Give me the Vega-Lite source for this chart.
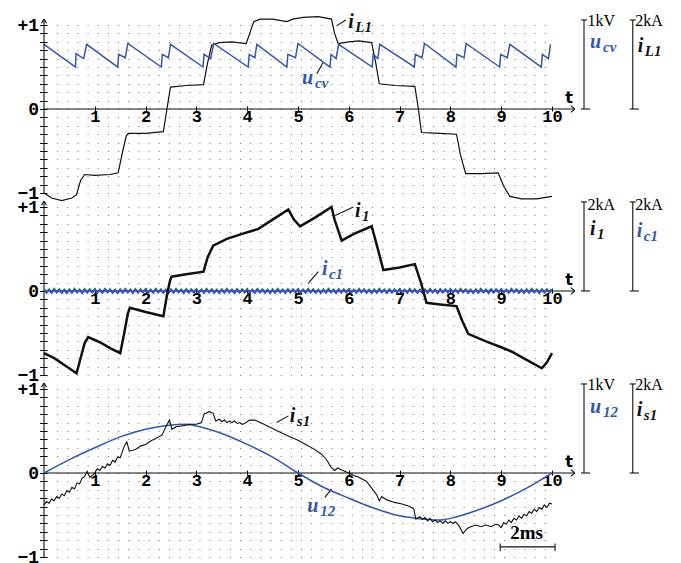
{
"$schema": "https://vega.github.io/schema/vega-lite/v6.json",
"background": "white",
"padding": {"left": 16, "top": 12, "right": 5, "bottom": 0},
"spacing": 14,
"bounds": "flush",
"config": {
  "view": {"stroke": null},
  "axisX": {"offset": -87, "tickSize": 5, "tickColor": "#000", "tickWidth": 1, "domain": false, "grid": false, "labelFont": "Liberation Mono", "labelFontWeight": "bold", "labelFontSize": 17, "labelColor": "#000", "labelPadding": -3, "labelBaseline": "top", "labelAngle": 0, "labelOverlap": false, "labelFlush": false},
  "axisY": {"labelExpr": "datum.value == 1 ? '+1' : (datum.value == 0 ? '0' : (datum.value == -1 ? '−1' : ''))", "offset": -2.5, "tickSize": 7, "tickColor": "#000", "tickWidth": 1, "domain": false, "grid": true, "gridDash": [1, 9.16], "gridColor": "#777", "gridWidth": 1, "labelFont": "Liberation Mono", "labelFontWeight": "bold", "labelFontSize": 18, "labelColor": "#000", "labelPadding": 1, "labelBaseline": "middle", "labelOverlap": false, "labelFlush": false}
},
"datasets": {
  "dense": [{"v":-1},{"v":-0.5},{"v":0.5},{"v":1}],
  "tlab": [{"t":10.26,"v":0.07,"label":"t"}],
  "ucv": [{"t":0,"v":0.77},{"t":0.62,"v":0.5},{"t":0.63,"v":0.66},{"t":0.78,"v":0.6},{"t":0.84,"v":0.77},{"t":1.45,"v":0.5},{"t":1.47,"v":0.65},{"t":1.6,"v":0.61},{"t":1.65,"v":0.78},{"t":2.31,"v":0.5},{"t":2.33,"v":0.65},{"t":2.45,"v":0.61},{"t":2.49,"v":0.77},{"t":3.13,"v":0.5},{"t":3.15,"v":0.65},{"t":3.28,"v":0.6},{"t":3.34,"v":0.78},{"t":4.02,"v":0.5},{"t":4.04,"v":0.65},{"t":4.15,"v":0.61},{"t":4.19,"v":0.77},{"t":4.78,"v":0.5},{"t":4.8,"v":0.65},{"t":4.95,"v":0.61},{"t":5.0,"v":0.78},{"t":5.63,"v":0.5},{"t":5.65,"v":0.65},{"t":5.75,"v":0.6},{"t":5.8,"v":0.77},{"t":6.46,"v":0.5},{"t":6.48,"v":0.65},{"t":6.57,"v":0.6},{"t":6.61,"v":0.77},{"t":7.29,"v":0.5},{"t":7.31,"v":0.65},{"t":7.44,"v":0.61},{"t":7.49,"v":0.78},{"t":8.11,"v":0.5},{"t":8.13,"v":0.65},{"t":8.27,"v":0.61},{"t":8.31,"v":0.78},{"t":8.97,"v":0.5},{"t":8.99,"v":0.65},{"t":9.12,"v":0.61},{"t":9.17,"v":0.77},{"t":9.79,"v":0.5},{"t":9.81,"v":0.65},{"t":9.93,"v":0.6},{"t":9.97,"v":0.77}],
  "iL1": [{"t":0,"v":-1.0},{"t":0.15,"v":-1.06},{"t":0.35,"v":-1.09},{"t":0.55,"v":-1.06},{"t":0.64,"v":-1.02},{"t":0.72,"v":-0.85},{"t":0.8,"v":-0.78},{"t":1.0,"v":-0.79},{"t":1.3,"v":-0.78},{"t":1.46,"v":-0.76},{"t":1.55,"v":-0.5},{"t":1.62,"v":-0.32},{"t":1.66,"v":-0.29},{"t":2.0,"v":-0.29},{"t":2.35,"v":-0.27},{"t":2.42,"v":0.0},{"t":2.49,"v":0.26},{"t":2.8,"v":0.28},{"t":3.14,"v":0.29},{"t":3.22,"v":0.55},{"t":3.3,"v":0.76},{"t":3.45,"v":0.79},{"t":3.7,"v":0.8},{"t":3.98,"v":0.78},{"t":4.05,"v":0.9},{"t":4.13,"v":1.04},{"t":4.25,"v":1.07},{"t":4.5,"v":1.07},{"t":4.78,"v":1.04},{"t":4.9,"v":1.07},{"t":5.1,"v":1.09},{"t":5.4,"v":1.1},{"t":5.66,"v":1.07},{"t":5.72,"v":0.9},{"t":5.79,"v":0.78},{"t":6.0,"v":0.8},{"t":6.2,"v":0.81},{"t":6.45,"v":0.79},{"t":6.53,"v":0.55},{"t":6.6,"v":0.3},{"t":6.9,"v":0.28},{"t":7.3,"v":0.27},{"t":7.37,"v":0.0},{"t":7.43,"v":-0.28},{"t":7.8,"v":-0.29},{"t":8.12,"v":-0.3},{"t":8.2,"v":-0.55},{"t":8.3,"v":-0.77},{"t":8.6,"v":-0.77},{"t":8.94,"v":-0.76},{"t":9.05,"v":-0.92},{"t":9.17,"v":-1.04},{"t":9.4,"v":-1.07},{"t":9.7,"v":-1.07},{"t":10,"v":-1.04}],
  "r1": [{"t":0,"v":-1,"t2":0,"v2":1.07},{"t":0,"v":0,"t2":10.45,"v2":0},{"t":10.37,"v":0.04,"t2":10.45,"v2":0},{"t":10.37,"v":-0.04,"t2":10.45,"v2":0},{"t":-0.05,"v":1.02,"t2":0,"v2":1.07},{"t":0.05,"v":1.02,"t2":0,"v2":1.07},{"t":10.63,"v":0,"t2":10.63,"v2":1.06},{"t":10.57,"v":1.06,"t2":10.69,"v2":1.06},{"t":10.57,"v":0,"t2":10.75,"v2":0},{"t":11.59,"v":0,"t2":11.59,"v2":1.06},{"t":11.53,"v":1.06,"t2":11.65,"v2":1.06},{"t":11.53,"v":0,"t2":11.71,"v2":0},{"t":5.76,"v":0.99,"t2":5.94,"v2":1.06},{"t":5.37,"v":0.42,"t2":5.49,"v2":0.55}],
  "l1": [{"t":5.99,"v":0.96,"m":"i","sub":"L1","q":"iL1"},{"t":5.08,"v":0.3,"m":"u","sub":"cv","q":"ucv"},{"t":10.75,"v":0.73,"m":"u","sub":"cv","q":"ucv"},{"t":11.69,"v":0.68,"m":"i","sub":"L1","q":"iL1"}],
  "u1": [{"t":10.7,"v":0.99,"u":"1kV"},{"t":11.64,"v":0.99,"u":"2kA"}],
  "i1": [{"t":0,"v":-0.74},{"t":0.2,"v":-0.8},{"t":0.4,"v":-0.88},{"t":0.64,"v":-0.98},{"t":0.72,"v":-0.8},{"t":0.8,"v":-0.62},{"t":0.87,"v":-0.55},{"t":1.1,"v":-0.61},{"t":1.3,"v":-0.68},{"t":1.5,"v":-0.74},{"t":1.58,"v":-0.5},{"t":1.65,"v":-0.27},{"t":1.69,"v":-0.2},{"t":2.0,"v":-0.25},{"t":2.35,"v":-0.3},{"t":2.42,"v":-0.05},{"t":2.48,"v":0.12},{"t":2.51,"v":0.17},{"t":2.8,"v":0.2},{"t":3.14,"v":0.23},{"t":3.22,"v":0.4},{"t":3.33,"v":0.54},{"t":3.6,"v":0.62},{"t":3.9,"v":0.68},{"t":4.22,"v":0.74},{"t":4.5,"v":0.85},{"t":4.81,"v":0.97},{"t":4.92,"v":0.85},{"t":5.04,"v":0.77},{"t":5.35,"v":0.88},{"t":5.66,"v":1.0},{"t":5.72,"v":0.85},{"t":5.86,"v":0.6},{"t":6.1,"v":0.68},{"t":6.45,"v":0.77},{"t":6.55,"v":0.55},{"t":6.68,"v":0.25},{"t":7.0,"v":0.28},{"t":7.3,"v":0.32},{"t":7.42,"v":0.1},{"t":7.53,"v":-0.14},{"t":7.8,"v":-0.16},{"t":8.12,"v":-0.18},{"t":8.23,"v":-0.35},{"t":8.35,"v":-0.51},{"t":8.7,"v":-0.6},{"t":9.0,"v":-0.67},{"t":9.2,"v":-0.72},{"t":9.5,"v":-0.82},{"t":9.8,"v":-0.92},{"t":9.9,"v":-0.85},{"t":10,"v":-0.74}],
  "ic1": [{"t":0,"v":0.02},{"t":0.05,"v":-0.018},{"t":0.1,"v":0.015},{"t":0.15,"v":-0.02},{"t":0.2,"v":0.022},{"t":0.25,"v":-0.015},{"t":0.3,"v":0.018},{"t":0.35,"v":-0.02},{"t":0.4,"v":0.015},{"t":0.45,"v":-0.022},
{"t":0.5,"v":0.018},{"t":0.55,"v":-0.02},{"t":0.6,"v":0.022},{"t":0.65,"v":-0.015},{"t":0.7,"v":0.015},{"t":0.75,"v":-0.022},{"t":0.8,"v":0.02},{"t":0.85,"v":-0.018},{"t":0.9,"v":0.018},{"t":0.95,"v":-0.015},
{"t":1,"v":0.02},{"t":1.05,"v":-0.018},{"t":1.1,"v":0.015},{"t":1.15,"v":-0.02},{"t":1.2,"v":0.022},{"t":1.25,"v":-0.015},{"t":1.3,"v":0.018},{"t":1.35,"v":-0.02},{"t":1.4,"v":0.015},{"t":1.45,"v":-0.022},
{"t":1.5,"v":0.018},{"t":1.55,"v":-0.02},{"t":1.6,"v":0.022},{"t":1.65,"v":-0.015},{"t":1.7,"v":0.015},{"t":1.75,"v":-0.022},{"t":1.8,"v":0.02},{"t":1.85,"v":-0.018},{"t":1.9,"v":0.018},{"t":1.95,"v":-0.015},
{"t":2,"v":0.02},{"t":2.05,"v":-0.018},{"t":2.1,"v":0.015},{"t":2.15,"v":-0.02},{"t":2.2,"v":0.022},{"t":2.25,"v":-0.015},{"t":2.3,"v":0.018},{"t":2.35,"v":-0.02},{"t":2.4,"v":0.015},{"t":2.45,"v":-0.022},
{"t":2.5,"v":0.018},{"t":2.55,"v":-0.02},{"t":2.6,"v":0.022},{"t":2.65,"v":-0.015},{"t":2.7,"v":0.015},{"t":2.75,"v":-0.022},{"t":2.8,"v":0.02},{"t":2.85,"v":-0.018},{"t":2.9,"v":0.018},{"t":2.95,"v":-0.015},
{"t":3,"v":0.02},{"t":3.05,"v":-0.018},{"t":3.1,"v":0.015},{"t":3.15,"v":-0.02},{"t":3.2,"v":0.022},{"t":3.25,"v":-0.015},{"t":3.3,"v":0.018},{"t":3.35,"v":-0.02},{"t":3.4,"v":0.015},{"t":3.45,"v":-0.022},
{"t":3.5,"v":0.018},{"t":3.55,"v":-0.02},{"t":3.6,"v":0.022},{"t":3.65,"v":-0.015},{"t":3.7,"v":0.015},{"t":3.75,"v":-0.022},{"t":3.8,"v":0.02},{"t":3.85,"v":-0.018},{"t":3.9,"v":0.018},{"t":3.95,"v":-0.015},
{"t":4,"v":0.02},{"t":4.05,"v":-0.018},{"t":4.1,"v":0.015},{"t":4.15,"v":-0.02},{"t":4.2,"v":0.022},{"t":4.25,"v":-0.015},{"t":4.3,"v":0.018},{"t":4.35,"v":-0.02},{"t":4.4,"v":0.015},{"t":4.45,"v":-0.022},
{"t":4.5,"v":0.018},{"t":4.55,"v":-0.02},{"t":4.6,"v":0.022},{"t":4.65,"v":-0.015},{"t":4.7,"v":0.015},{"t":4.75,"v":-0.022},{"t":4.8,"v":0.02},{"t":4.85,"v":-0.018},{"t":4.9,"v":0.018},{"t":4.95,"v":-0.015},
{"t":5,"v":0.02},{"t":5.05,"v":-0.018},{"t":5.1,"v":0.015},{"t":5.15,"v":-0.02},{"t":5.2,"v":0.022},{"t":5.25,"v":-0.015},{"t":5.3,"v":0.018},{"t":5.35,"v":-0.02},{"t":5.4,"v":0.015},{"t":5.45,"v":-0.022},
{"t":5.5,"v":0.018},{"t":5.55,"v":-0.02},{"t":5.6,"v":0.022},{"t":5.65,"v":-0.015},{"t":5.7,"v":0.015},{"t":5.75,"v":-0.022},{"t":5.8,"v":0.02},{"t":5.85,"v":-0.018},{"t":5.9,"v":0.018},{"t":5.95,"v":-0.015},
{"t":6,"v":0.02},{"t":6.05,"v":-0.018},{"t":6.1,"v":0.015},{"t":6.15,"v":-0.02},{"t":6.2,"v":0.022},{"t":6.25,"v":-0.015},{"t":6.3,"v":0.018},{"t":6.35,"v":-0.02},{"t":6.4,"v":0.015},{"t":6.45,"v":-0.022},
{"t":6.5,"v":0.018},{"t":6.55,"v":-0.02},{"t":6.6,"v":0.022},{"t":6.65,"v":-0.015},{"t":6.7,"v":0.015},{"t":6.75,"v":-0.022},{"t":6.8,"v":0.02},{"t":6.85,"v":-0.018},{"t":6.9,"v":0.018},{"t":6.95,"v":-0.015},
{"t":7,"v":0.02},{"t":7.05,"v":-0.018},{"t":7.1,"v":0.015},{"t":7.15,"v":-0.02},{"t":7.2,"v":0.022},{"t":7.25,"v":-0.015},{"t":7.3,"v":0.018},{"t":7.35,"v":-0.02},{"t":7.4,"v":0.015},{"t":7.45,"v":-0.022},
{"t":7.5,"v":0.018},{"t":7.55,"v":-0.02},{"t":7.6,"v":0.022},{"t":7.65,"v":-0.015},{"t":7.7,"v":0.015},{"t":7.75,"v":-0.022},{"t":7.8,"v":0.02},{"t":7.85,"v":-0.018},{"t":7.9,"v":0.018},{"t":7.95,"v":-0.015},
{"t":8,"v":0.02},{"t":8.05,"v":-0.018},{"t":8.1,"v":0.015},{"t":8.15,"v":-0.02},{"t":8.2,"v":0.022},{"t":8.25,"v":-0.015},{"t":8.3,"v":0.018},{"t":8.35,"v":-0.02},{"t":8.4,"v":0.015},{"t":8.45,"v":-0.022},
{"t":8.5,"v":0.018},{"t":8.55,"v":-0.02},{"t":8.6,"v":0.022},{"t":8.65,"v":-0.015},{"t":8.7,"v":0.015},{"t":8.75,"v":-0.022},{"t":8.8,"v":0.02},{"t":8.85,"v":-0.018},{"t":8.9,"v":0.018},{"t":8.95,"v":-0.015},
{"t":9,"v":0.02},{"t":9.05,"v":-0.018},{"t":9.1,"v":0.015},{"t":9.15,"v":-0.02},{"t":9.2,"v":0.022},{"t":9.25,"v":-0.015},{"t":9.3,"v":0.018},{"t":9.35,"v":-0.02},{"t":9.4,"v":0.015},{"t":9.45,"v":-0.022},
{"t":9.5,"v":0.018},{"t":9.55,"v":-0.02},{"t":9.6,"v":0.022},{"t":9.65,"v":-0.015},{"t":9.7,"v":0.015},{"t":9.75,"v":-0.022},{"t":9.8,"v":0.02},{"t":9.85,"v":-0.018},{"t":9.9,"v":0.018},{"t":9.95,"v":-0.015},{"t":10,"v":0.02}],
  "r2": [{"t":0,"v":-1,"t2":0,"v2":1.07},{"t":0,"v":0,"t2":10.45,"v2":0},{"t":10.37,"v":0.04,"t2":10.45,"v2":0},{"t":10.37,"v":-0.04,"t2":10.45,"v2":0},{"t":-0.05,"v":1.02,"t2":0,"v2":1.07},{"t":0.05,"v":1.02,"t2":0,"v2":1.07},{"t":10.63,"v":0,"t2":10.63,"v2":1.06},{"t":10.57,"v":1.06,"t2":10.69,"v2":1.06},{"t":10.57,"v":0,"t2":10.75,"v2":0},{"t":11.59,"v":0,"t2":11.59,"v2":1.06},{"t":11.53,"v":1.06,"t2":11.65,"v2":1.06},{"t":11.53,"v":0,"t2":11.71,"v2":0},{"t":5.73,"v":0.9,"t2":6.09,"v2":1.0},{"t":5.2,"v":0.09,"t2":5.4,"v2":0.23}],
  "l2": [{"t":6.12,"v":0.88,"m":"i","sub":"1","q":"i1"},{"t":5.47,"v":0.19,"m":"i","sub":"c1","q":"ic1"},{"t":10.75,"v":0.67,"m":"i","sub":"1","q":"i1"},{"t":11.67,"v":0.64,"m":"i","sub":"c1","q":"ic1"}],
  "u2": [{"t":10.7,"v":0.97,"u":"2kA"},{"t":11.64,"v":0.97,"u":"2kA"}],
  "u12": [{"t":0,"v":0},{"t":0.5,"v":0.16},{"t":1.0,"v":0.3},{"t":1.5,"v":0.43},{"t":2.0,"v":0.52},{"t":2.5,"v":0.57},{"t":2.8,"v":0.58},{"t":3.0,"v":0.56},{"t":3.5,"v":0.47},{"t":4.0,"v":0.34},{"t":4.5,"v":0.19},{"t":5.0,"v":0.0},{"t":5.5,"v":-0.17},{"t":6.0,"v":-0.3},{"t":6.5,"v":-0.42},{"t":7.0,"v":-0.51},{"t":7.5,"v":-0.55},{"t":7.8,"v":-0.56},{"t":8.0,"v":-0.54},{"t":8.5,"v":-0.45},{"t":9.0,"v":-0.33},{"t":9.5,"v":-0.18},{"t":10,"v":0.0}],
  "is1": [{"t":0,"v":-0.38},{"t":0.05,"v":-0.34},{"t":0.1,"v":-0.36},{"t":0.15,"v":-0.31},{"t":0.2,"v":-0.33},{"t":0.25,"v":-0.28},{"t":0.3,"v":-0.3},{"t":0.35,"v":-0.25},{"t":0.4,"v":-0.27},{"t":0.45,"v":-0.21},{"t":0.5,"v":-0.23},{"t":0.55,"v":-0.17},{"t":0.6,"v":-0.19},{"t":0.65,"v":-0.12},{"t":0.7,"v":-0.13},{"t":0.75,"v":-0.06},{"t":0.8,"v":-0.04},{"t":0.85,"v":0.02},{"t":0.9,"v":-0.05},{"t":0.95,"v":-0.03},{"t":1.0,"v":0.0},{"t":1.05,"v":0.05},{"t":1.1,"v":0.03},{"t":1.15,"v":0.08},{"t":1.2,"v":0.06},{"t":1.25,"v":0.11},{"t":1.3,"v":0.09},{"t":1.35,"v":0.15},{"t":1.4,"v":0.13},{"t":1.45,"v":0.19},{"t":1.5,"v":0.18},{"t":1.58,"v":0.32},{"t":1.63,"v":0.37},{"t":1.68,"v":0.26},{"t":1.8,"v":0.28},{"t":1.9,"v":0.32},{"t":2.0,"v":0.34},{"t":2.1,"v":0.38},{"t":2.2,"v":0.41},{"t":2.32,"v":0.45},{"t":2.4,"v":0.55},{"t":2.47,"v":0.63},{"t":2.52,"v":0.52},{"t":2.6,"v":0.55},{"t":2.7,"v":0.56},{"t":2.8,"v":0.57},{"t":2.9,"v":0.58},{"t":3.0,"v":0.58},{"t":3.1,"v":0.6},{"t":3.15,"v":0.7},{"t":3.25,"v":0.73},{"t":3.33,"v":0.71},{"t":3.38,"v":0.62},{"t":3.45,"v":0.64},{"t":3.5,"v":0.61},{"t":3.55,"v":0.63},{"t":3.6,"v":0.6},{"t":3.65,"v":0.62},{"t":3.7,"v":0.6},{"t":3.75,"v":0.62},{"t":3.8,"v":0.59},{"t":3.85,"v":0.6},{"t":3.9,"v":0.58},{"t":3.95,"v":0.59},{"t":4.05,"v":0.63},{"t":4.15,"v":0.63},{"t":4.3,"v":0.59},{"t":4.5,"v":0.53},{"t":4.7,"v":0.47},{"t":4.85,"v":0.43},{"t":5.0,"v":0.39},{"t":5.15,"v":0.34},{"t":5.3,"v":0.29},{"t":5.45,"v":0.23},{"t":5.55,"v":0.17},{"t":5.65,"v":0.07},{"t":5.72,"v":0.03},{"t":5.78,"v":0.06},{"t":5.85,"v":0.04},{"t":6.0,"v":0.0},{"t":6.1,"v":-0.03},{"t":6.2,"v":-0.05},{"t":6.35,"v":-0.1},{"t":6.45,"v":-0.18},{"t":6.55,"v":-0.26},{"t":6.6,"v":-0.33},{"t":6.65,"v":-0.28},{"t":6.75,"v":-0.32},{"t":6.9,"v":-0.35},{"t":7.05,"v":-0.37},{"t":7.2,"v":-0.4},{"t":7.28,"v":-0.43},{"t":7.32,"v":-0.55},{"t":7.4,"v":-0.52},{"t":7.45,"v":-0.55},{"t":7.5,"v":-0.53},{"t":7.55,"v":-0.57},{"t":7.6,"v":-0.54},{"t":7.65,"v":-0.58},{"t":7.7,"v":-0.56},{"t":7.75,"v":-0.59},{"t":7.8,"v":-0.57},{"t":7.85,"v":-0.6},{"t":7.9,"v":-0.57},{"t":7.95,"v":-0.6},{"t":8.0,"v":-0.58},{"t":8.05,"v":-0.6},{"t":8.1,"v":-0.58},{"t":8.17,"v":-0.63},{"t":8.25,"v":-0.72},{"t":8.33,"v":-0.66},{"t":8.4,"v":-0.64},{"t":8.5,"v":-0.62},{"t":8.6,"v":-0.64},{"t":8.7,"v":-0.62},{"t":8.8,"v":-0.64},{"t":8.9,"v":-0.61},{"t":8.95,"v":-0.62},{"t":9.0,"v":-0.65},{"t":9.05,"v":-0.59},{"t":9.1,"v":-0.61},{"t":9.15,"v":-0.56},{"t":9.2,"v":-0.59},{"t":9.25,"v":-0.54},{"t":9.3,"v":-0.56},{"t":9.35,"v":-0.51},{"t":9.4,"v":-0.54},{"t":9.45,"v":-0.49},{"t":9.5,"v":-0.51},{"t":9.55,"v":-0.46},{"t":9.6,"v":-0.48},{"t":9.65,"v":-0.43},{"t":9.7,"v":-0.46},{"t":9.75,"v":-0.41},{"t":9.8,"v":-0.43},{"t":9.85,"v":-0.38},{"t":9.9,"v":-0.41},{"t":9.95,"v":-0.36},{"t":10,"v":-0.37}],
  "r3": [{"t":0,"v":-1,"t2":0,"v2":1.07},{"t":0,"v":0,"t2":10.45,"v2":0},{"t":10.37,"v":0.04,"t2":10.45,"v2":0},{"t":10.37,"v":-0.04,"t2":10.45,"v2":0},{"t":-0.05,"v":1.02,"t2":0,"v2":1.07},{"t":0.05,"v":1.02,"t2":0,"v2":1.07},{"t":10.63,"v":0,"t2":10.63,"v2":1.06},{"t":10.57,"v":1.06,"t2":10.69,"v2":1.06},{"t":10.57,"v":0,"t2":10.75,"v2":0},{"t":11.59,"v":0,"t2":11.59,"v2":1.06},{"t":11.53,"v":1.06,"t2":11.65,"v2":1.06},{"t":11.53,"v":0,"t2":11.71,"v2":0},{"t":4.58,"v":0.6,"t2":4.81,"v2":0.68},{"t":5.53,"v":-0.29,"t2":5.66,"v2":-0.19},{"t":8.98,"v":-0.88,"t2":10.06,"v2":-0.88},{"t":8.98,"v":-0.84,"t2":8.98,"v2":-0.93},{"t":10.06,"v":-0.84,"t2":10.06,"v2":-0.93}],
  "l3": [{"t":4.84,"v":0.61,"m":"i","sub":"s1","q":"is1"},{"t":5.18,"v":-0.46,"m":"u","sub":"12","q":"u12"},{"t":10.75,"v":0.72,"m":"u","sub":"12","q":"u12"},{"t":11.67,"v":0.68,"m":"i","sub":"s1","q":"is1"}],
  "u3": [{"t":10.7,"v":0.99,"u":"1kV"},{"t":11.64,"v":0.99,"u":"2kA"}],
  "ms": [{"t":9.5,"v":-0.79,"u":"2ms"}]
},
"vconcat": [
{
 "width": 508, "height": 168,
 "encoding": {
  "x": {"field": "t", "type": "quantitative", "scale": {"domain": [0, 10], "nice": false, "zero": false}, "title": null, "axis": {"values": [1,2,3,4,5,6,7,8,9,10]}},
  "y": {"field": "v", "type": "quantitative", "scale": {"domain": [-1, 1], "nice": false, "zero": false}, "title": null, "axis": {"values": [-1,-0.9,-0.8,-0.7,-0.6,-0.5,-0.4,-0.3,-0.2,-0.1,0,0.1,0.2,0.3,0.4,0.5,0.6,0.7,0.8,0.9,1]}}
 },
 "layer": [
  {"data": {"name": "dense"}, "mark": {"type": "rule", "color": "#777", "strokeDash": [1, 4.08], "strokeWidth": 1}, "encoding": {"x": {"datum": 0}, "x2": {"datum": 10}}},
  {"data": {"name": "tlab"}, "mark": {"type": "text", "font": "DejaVu Sans", "fontWeight": "bold", "fontSize": 16, "align": "left", "baseline": "alphabetic", "color": "#000"}, "encoding": {"text": {"field": "label"}}},
  {"data": {"name": "iL1"}, "mark": {"type": "line", "color": "#111", "strokeWidth": 1.2}, "encoding": {}},
  {"data": {"name": "ucv"}, "mark": {"type": "line", "color": "#3556ad", "strokeWidth": 1.5}, "encoding": {}},
  {"data": {"name": "r1"}, "mark": {"type": "rule", "color": "#111", "strokeWidth": 1.1}, "encoding": {"x2": {"field": "t2"}, "y2": {"field": "v2"}}},
  {"data": {"name": "u1"}, "mark": {"type": "text", "font": "Liberation Serif", "fontSize": 16, "align": "left", "baseline": "alphabetic", "color": "#000"}, "encoding": {"text": {"field": "u"}}},
  {"data": {"name": "l1"}, "mark": {"type": "text", "font": "Liberation Serif", "fontStyle": "italic", "fontWeight": "bold", "fontSize": 20, "align": "left", "baseline": "alphabetic"}, "encoding": {"text": {"field": "m"}, "color": {"field": "q", "type": "nominal", "scale": {"domain": ["ucv","iL1","i1","ic1","u12","is1"], "range": ["#3556ad","#111","#111","#3556ad","#3556ad","#111"]}, "legend": null}}},
  {"data": {"name": "l1"}, "transform": [{"filter": "datum.m == 'u'"}], "mark": {"type": "text", "font": "Liberation Serif", "fontStyle": "italic", "fontWeight": "bold", "fontSize": 15, "align": "left", "baseline": "alphabetic", "dx": 13, "dy": 4}, "encoding": {"text": {"field": "sub"}, "color": {"field": "q", "type": "nominal", "scale": {"domain": ["ucv","iL1","i1","ic1","u12","is1"], "range": ["#3556ad","#111","#111","#3556ad","#3556ad","#111"]}, "legend": null}}},
  {"data": {"name": "l1"}, "transform": [{"filter": "datum.m == 'i'"}], "mark": {"type": "text", "font": "Liberation Serif", "fontStyle": "italic", "fontWeight": "bold", "fontSize": 15, "align": "left", "baseline": "alphabetic", "dx": 7, "dy": 4}, "encoding": {"text": {"field": "sub"}, "color": {"field": "q", "type": "nominal", "scale": {"domain": ["ucv","iL1","i1","ic1","u12","is1"], "range": ["#3556ad","#111","#111","#3556ad","#3556ad","#111"]}, "legend": null}}}
 ]
},
{
 "width": 508, "height": 168,
 "encoding": {
  "x": {"field": "t", "type": "quantitative", "scale": {"domain": [0, 10], "nice": false, "zero": false}, "title": null, "axis": {"values": [1,2,3,4,5,6,7,8,9,10]}},
  "y": {"field": "v", "type": "quantitative", "scale": {"domain": [-1, 1], "nice": false, "zero": false}, "title": null, "axis": {"values": [-1,-0.9,-0.8,-0.7,-0.6,-0.5,-0.4,-0.3,-0.2,-0.1,0,0.1,0.2,0.3,0.4,0.5,0.6,0.7,0.8,0.9,1]}}
 },
 "layer": [
  {"data": {"name": "dense"}, "mark": {"type": "rule", "color": "#777", "strokeDash": [1, 4.08], "strokeWidth": 1}, "encoding": {"x": {"datum": 0}, "x2": {"datum": 10}}},
  {"data": {"name": "tlab"}, "mark": {"type": "text", "font": "DejaVu Sans", "fontWeight": "bold", "fontSize": 16, "align": "left", "baseline": "alphabetic", "color": "#000"}, "encoding": {"text": {"field": "label"}}},
  {"data": {"name": "r2"}, "mark": {"type": "rule", "color": "#111", "strokeWidth": 1.1}, "encoding": {"x2": {"field": "t2"}, "y2": {"field": "v2"}}},
  {"data": {"name": "ic1"}, "mark": {"type": "line", "color": "#3556ad", "strokeWidth": 2.2}, "encoding": {}},
  {"data": {"name": "i1"}, "mark": {"type": "line", "color": "#111", "strokeWidth": 2.5}, "encoding": {}},
  {"data": {"name": "u2"}, "mark": {"type": "text", "font": "Liberation Serif", "fontSize": 16, "align": "left", "baseline": "alphabetic", "color": "#000"}, "encoding": {"text": {"field": "u"}}},
  {"data": {"name": "l2"}, "mark": {"type": "text", "font": "Liberation Serif", "fontStyle": "italic", "fontWeight": "bold", "fontSize": 20, "align": "left", "baseline": "alphabetic"}, "encoding": {"text": {"field": "m"}, "color": {"field": "q", "type": "nominal", "scale": {"domain": ["ucv","iL1","i1","ic1","u12","is1"], "range": ["#3556ad","#111","#111","#3556ad","#3556ad","#111"]}, "legend": null}}},
  {"data": {"name": "l2"}, "transform": [{"filter": "datum.m == 'i'"}], "mark": {"type": "text", "font": "Liberation Serif", "fontStyle": "italic", "fontWeight": "bold", "fontSize": 15, "align": "left", "baseline": "alphabetic", "dx": 7, "dy": 4}, "encoding": {"text": {"field": "sub"}, "color": {"field": "q", "type": "nominal", "scale": {"domain": ["ucv","iL1","i1","ic1","u12","is1"], "range": ["#3556ad","#111","#111","#3556ad","#3556ad","#111"]}, "legend": null}}}
 ]
},
{
 "width": 508, "height": 168,
 "encoding": {
  "x": {"field": "t", "type": "quantitative", "scale": {"domain": [0, 10], "nice": false, "zero": false}, "title": null, "axis": {"values": [1,2,3,4,5,6,7,8,9,10]}},
  "y": {"field": "v", "type": "quantitative", "scale": {"domain": [-1, 1], "nice": false, "zero": false}, "title": null, "axis": {"values": [-1,-0.9,-0.8,-0.7,-0.6,-0.5,-0.4,-0.3,-0.2,-0.1,0,0.1,0.2,0.3,0.4,0.5,0.6,0.7,0.8,0.9,1]}}
 },
 "layer": [
  {"data": {"name": "dense"}, "mark": {"type": "rule", "color": "#777", "strokeDash": [1, 4.08], "strokeWidth": 1}, "encoding": {"x": {"datum": 0}, "x2": {"datum": 10}}},
  {"data": {"name": "tlab"}, "mark": {"type": "text", "font": "DejaVu Sans", "fontWeight": "bold", "fontSize": 16, "align": "left", "baseline": "alphabetic", "color": "#000"}, "encoding": {"text": {"field": "label"}}},
  {"data": {"name": "r3"}, "mark": {"type": "rule", "color": "#111", "strokeWidth": 1.1}, "encoding": {"x2": {"field": "t2"}, "y2": {"field": "v2"}}},
  {"data": {"name": "u12"}, "mark": {"type": "line", "color": "#3556ad", "strokeWidth": 1.5, "interpolate": "monotone"}, "encoding": {}},
  {"data": {"name": "is1"}, "mark": {"type": "line", "color": "#111", "strokeWidth": 1.1}, "encoding": {}},
  {"data": {"name": "u3"}, "mark": {"type": "text", "font": "Liberation Serif", "fontSize": 16, "align": "left", "baseline": "alphabetic", "color": "#000"}, "encoding": {"text": {"field": "u"}}},
  {"data": {"name": "ms"}, "mark": {"type": "text", "font": "Liberation Serif", "fontWeight": "bold", "fontSize": 19, "align": "center", "baseline": "alphabetic", "color": "#000"}, "encoding": {"text": {"field": "u"}}},
  {"data": {"name": "l3"}, "mark": {"type": "text", "font": "Liberation Serif", "fontStyle": "italic", "fontWeight": "bold", "fontSize": 20, "align": "left", "baseline": "alphabetic"}, "encoding": {"text": {"field": "m"}, "color": {"field": "q", "type": "nominal", "scale": {"domain": ["ucv","iL1","i1","ic1","u12","is1"], "range": ["#3556ad","#111","#111","#3556ad","#3556ad","#111"]}, "legend": null}}},
  {"data": {"name": "l3"}, "transform": [{"filter": "datum.m == 'u'"}], "mark": {"type": "text", "font": "Liberation Serif", "fontStyle": "italic", "fontWeight": "bold", "fontSize": 15, "align": "left", "baseline": "alphabetic", "dx": 13, "dy": 4}, "encoding": {"text": {"field": "sub"}, "color": {"field": "q", "type": "nominal", "scale": {"domain": ["ucv","iL1","i1","ic1","u12","is1"], "range": ["#3556ad","#111","#111","#3556ad","#3556ad","#111"]}, "legend": null}}},
  {"data": {"name": "l3"}, "transform": [{"filter": "datum.m == 'i'"}], "mark": {"type": "text", "font": "Liberation Serif", "fontStyle": "italic", "fontWeight": "bold", "fontSize": 15, "align": "left", "baseline": "alphabetic", "dx": 7, "dy": 4}, "encoding": {"text": {"field": "sub"}, "color": {"field": "q", "type": "nominal", "scale": {"domain": ["ucv","iL1","i1","ic1","u12","is1"], "range": ["#3556ad","#111","#111","#3556ad","#3556ad","#111"]}, "legend": null}}}
 ]
}
]
}
